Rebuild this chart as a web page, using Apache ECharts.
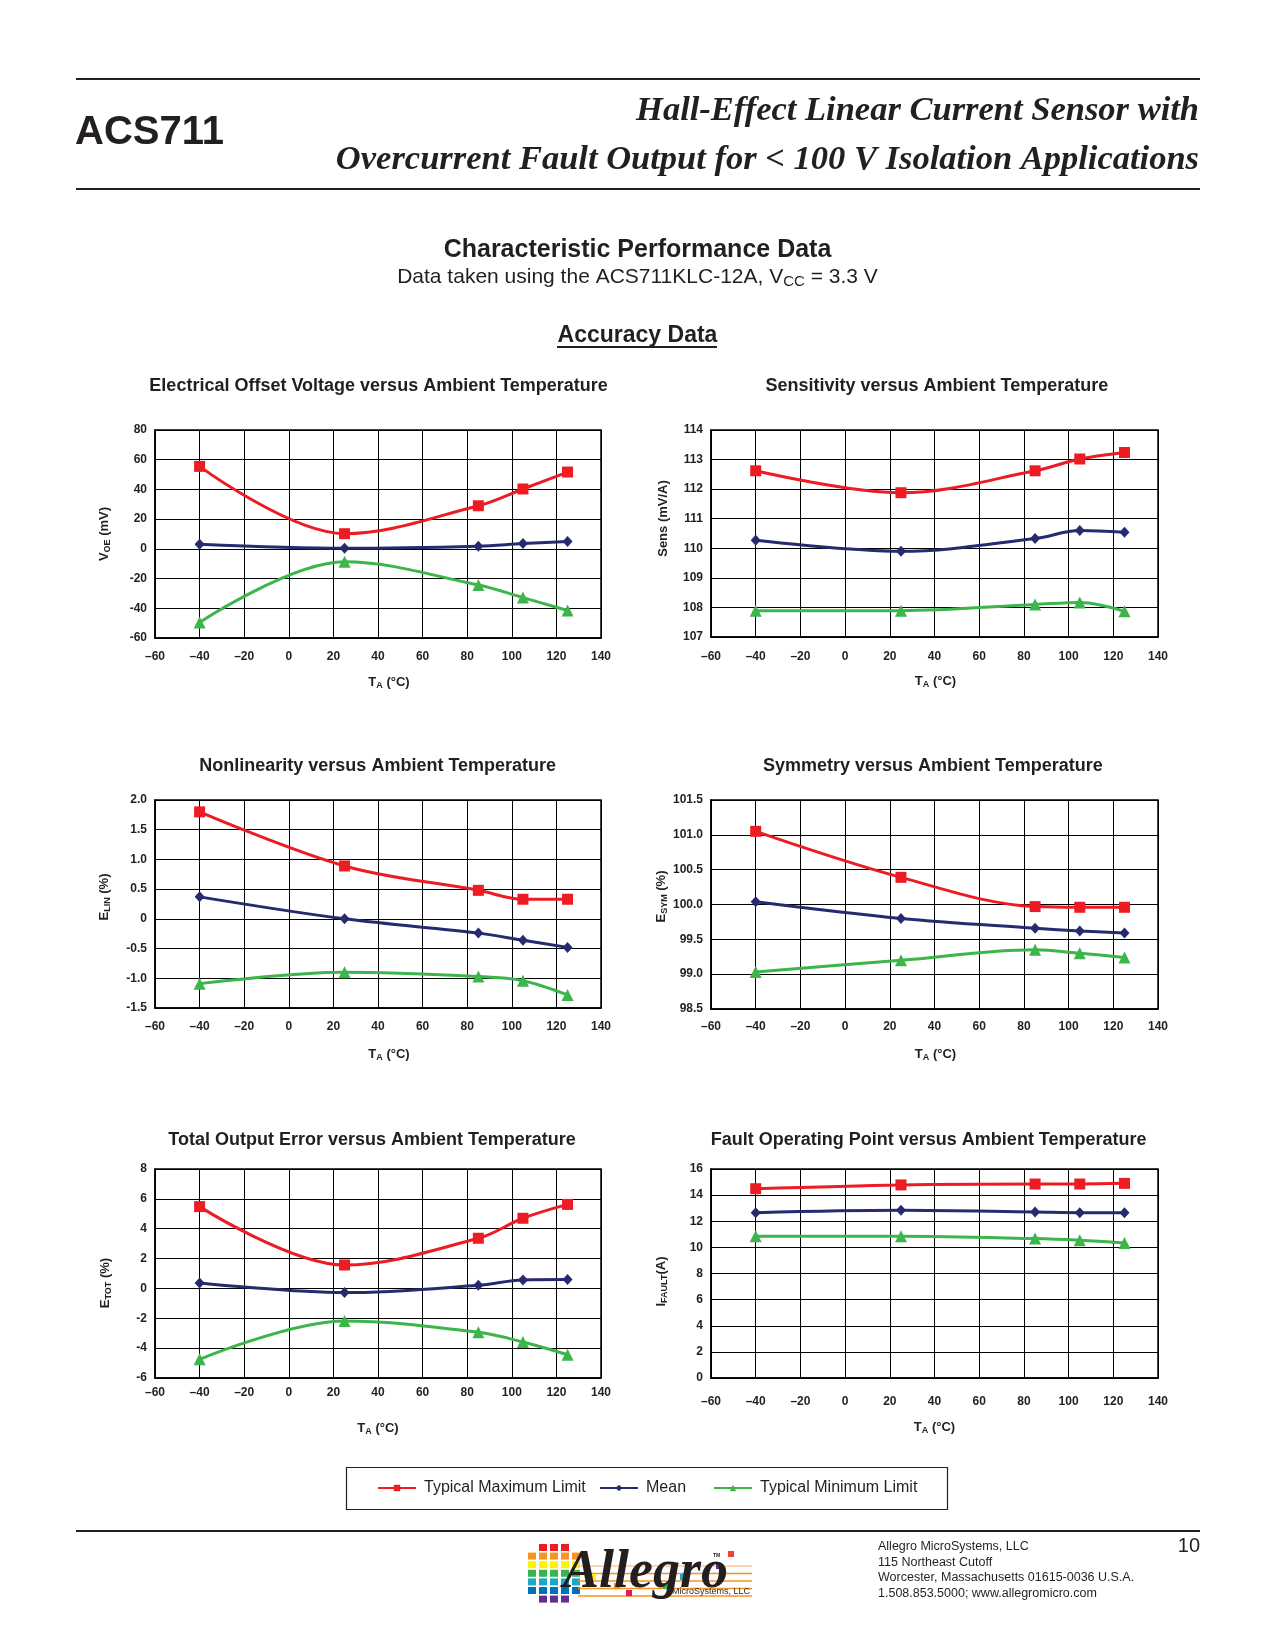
<!DOCTYPE html>
<html>
<head>
<meta charset="utf-8">
<script src="https://cdn.jsdelivr.net/npm/echarts@6/dist/echarts.min.js"></script>
<style>
html,body{margin:0;padding:0;background:#fff;}
#c{width:1275px;height:1650px;}
</style>
</head>
<body>
<div id="c"></div>
<script>
// ---------------- data ----------------
const temps = [-40, 25, 85, 105, 125];
const seriesNames = ['Typical Maximum Limit', 'Mean', 'Typical Minimum Limit'];
const xTickLabels = ['\u201360','\u201340','\u201320','0','20','40','60','80','100','120','140'];

const voeMax  = [55.5, 10.2, 29.0, 40.3, 51.7];
const voeMean = [3.1, 0.4, 1.8, 3.6, 5.0];
const voeMin  = [-49.5, -8.7, -24.3, -32.8, -41.5];
const voeTicks = ['-60','-40','-20','0','20','40','60','80'];

const sensMax  = [112.62, 111.88, 112.62, 113.02, 113.24];
const sensMean = [110.27, 109.90, 110.33, 110.60, 110.54];
const sensMin  = [107.89, 107.89, 108.10, 108.17, 107.87];
const sensTicks = ['107','108','109','110','111','112','113','114'];

const linMax  = [1.80, 0.89, 0.48, 0.33, 0.33];
const linMean = [0.37, 0.00, -0.24, -0.36, -0.48];
const linMin  = [-1.09, -0.90, -0.97, -1.04, -1.28];
const linTicks = ['-1.5','-1.0','-0.5','0','0.5','1.0','1.5','2.0'];

const symMax  = [101.05, 100.39, 99.97, 99.96, 99.96];
const symMean = [100.04, 99.80, 99.66, 99.62, 99.59];
const symMin  = [99.03, 99.20, 99.35, 99.30, 99.24];
const symTicks = ['98.5','99.0','99.5','100.0','100.5','101.0','101.5'];

const totMax  = [5.48, 1.57, 3.36, 4.70, 5.63];
const totMean = [0.36, -0.28, 0.21, 0.57, 0.59];
const totMin  = [-4.75, -2.18, -2.94, -3.59, -4.44];
const totTicks = ['-6','-4','-2','0','2','4','6','8'];

const faultMax  = [14.49, 14.78, 14.85, 14.85, 14.90];
const faultMean = [12.66, 12.84, 12.71, 12.66, 12.66];
const faultMin  = [10.85, 10.85, 10.67, 10.54, 10.34];
const faultTicks = ['0','2','4','6','8','10','12','14','16'];

const chartTitles = [
  'Electrical Offset Voltage versus Ambient Temperature',
  'Sensitivity versus Ambient Temperature',
  'Nonlinearity versus Ambient Temperature',
  'Symmetry versus Ambient Temperature',
  'Total Output Error versus Ambient Temperature',
  'Fault Operating Point versus Ambient Temperature'
];
const yNames = [
  ['V','OE',' (mV)'],
  ['Sens (mV/A)','',''],
  ['E','LIN',' (%)'],
  ['E','SYM',' (%)'],
  ['E','TOT',' (%)'],
  ['I','FAULT','(A)']
];

// ---------------- layout ----------------
const FONT = '"Liberation Sans", Arial, sans-serif';
const SERIF = '"Liberation Serif", "Times New Roman", serif';
const INK = '#231f20';
const COLORS = ['#ed1c24', '#262a6e', '#3cb54a'];
const SYMBOLS = ['rect', 'diamond', 'triangle'];
const SYMSIZE = [11, [10, 11], 12];

const panels = [
  {grid:{left:155,top:430,width:446,height:208}, y:[-60,80,20], ticks:voeTicks,  data:[voeMax,voeMean,voeMin],
   title:[378.6,386], xm:13, xg:37, xpad:[0,0,0,22], yg:43, ypad:[0,0,0,0]},
  {grid:{left:711,top:430,width:447,height:207}, y:[107,114,1], ticks:sensTicks, data:[sensMax,sensMean,sensMin],
   title:[936.8,386], xm:14, xg:37, xpad:[0,0,0,2], yg:41, ypad:[0,0,0,30]},
  {grid:{left:155,top:800,width:446,height:208}, y:[-1.5,2.0,0.5], ticks:linTicks, data:[linMax,linMean,linMin],
   title:[377.7,766.5], xm:13, xg:39, xpad:[0,0,0,22], yg:43, ypad:[0,0,0,14]},
  {grid:{left:711,top:800,width:447,height:209}, y:[98.5,101.5,0.5], ticks:symTicks, data:[symMax,symMean,symMin],
   title:[932.8,766.5], xm:12, xg:38, xpad:[0,0,0,2], yg:41, ypad:[0,0,0,16]},
  {grid:{left:155,top:1169,width:446,height:209}, y:[-6,8,2], ticks:totTicks, data:[totMax,totMean,totMin],
   title:[372,1140], xm:9, xg:43, xpad:[0,0,0,0], yg:42, ypad:[0,19,0,0]},
  {grid:{left:711,top:1169,width:447,height:209}, y:[0,16,2], ticks:faultTicks, data:[faultMax,faultMean,faultMin],
   title:[928.7,1140], xm:18, xg:42, xpad:[0,0,0,0], yg:42, ypad:[0,16,0,0]}
];

const richName = {
  b: {fontFamily: FONT, fontWeight: 'bold', fontSize: 13, color: INK},
  s: {fontFamily: FONT, fontWeight: 'bold', fontSize: 9, color: INK, padding: [6, 0, 0, 0]}
};

const grids = [], xAxes = [], yAxes = [], series = [];
panels.forEach((p, k) => {
  grids.push(Object.assign({show: true, borderColor: '#000', borderWidth: 1.5, containLabel: false}, p.grid));
  xAxes.push({
    type: 'value', gridIndex: k, min: -60, max: 140, interval: 20,
    axisLine: {show: true, onZero: false, lineStyle: {color: '#000', width: 1.5}},
    axisTick: {show: false},
    splitLine: {show: true, lineStyle: {color: '#000', width: 1}},
    axisLabel: {margin: p.xm, fontFamily: FONT, fontWeight: 'bold', fontSize: 12, color: INK,
      formatter: v => xTickLabels[Math.round((v + 60) / 20)]},
    name: '{b|T}{s|A}{b| (\u00b0C)}', nameLocation: 'middle', nameGap: p.xg,
    nameTextStyle: {rich: richName, padding: p.xpad}
  });
  const yn = yNames[k];
  const ynm = yn[1] ? '{b|' + yn[0] + '}{s|' + yn[1] + '}{b|' + yn[2] + '}' : '{b|' + yn[0] + '}';
  yAxes.push({
    type: 'value', gridIndex: k, min: p.y[0], max: p.y[1], interval: p.y[2],
    axisLine: {show: true, onZero: false, lineStyle: {color: '#000', width: 1.5}},
    axisTick: {show: false},
    splitLine: {show: true, lineStyle: {color: '#000', width: 1}},
    axisLabel: {margin: 8, fontFamily: FONT, fontWeight: 'bold', fontSize: 12, color: INK,
      formatter: v => p.ticks[Math.round((v - p.y[0]) / p.y[2])]},
    name: ynm, nameLocation: 'middle', nameGap: p.yg, nameRotate: 90,
    nameTextStyle: {rich: richName, padding: p.ypad}
  });
  p.data.forEach((arr, j) => {
    series.push({
      type: 'line', name: seriesNames[j], xAxisIndex: k, yAxisIndex: k,
      data: temps.map((t, i) => [t, arr[i]]),
      smooth: 0.35, symbol: SYMBOLS[j], symbolSize: SYMSIZE[j],
      lineStyle: {color: COLORS[j], width: 3},
      itemStyle: {color: COLORS[j]},
      emphasis: {disabled: true}, animation: false, z: 3 + (2 - j)
    });
  });
});

// ---------------- static page graphics ----------------
const g = [];
function txt(x, y, text, font, align, vAlign, extra) {
  g.push({type: 'text', silent: true, style: Object.assign({x: x, y: y, text: text, font: font, fill: INK,
    align: align || 'left', verticalAlign: vAlign || 'middle'}, extra || {})});
}
function hline(x1, x2, y, w, color) {
  g.push({type: 'line', silent: true, shape: {x1: x1, y1: y, x2: x2, y2: y}, style: {stroke: color || INK, lineWidth: w}});
}
// header
hline(76, 1200, 79, 2);
hline(76, 1200, 189, 2);
txt(75, 133, 'ACS711', 'bold 40px ' + FONT);
txt(1199, 111, 'Hall-Effect Linear Current Sensor with', 'italic bold 34.5px ' + SERIF, 'right', 'middle');
txt(1199, 160, 'Overcurrent Fault Output for < 100 V Isolation Applications', 'italic bold 34.5px ' + SERIF, 'right', 'middle');
txt(637.5, 250, 'Characteristic Performance Data', 'bold 25px ' + FONT, 'center');
txt(637.5, 277, 'Data taken using the ACS711KLC-12A, V{s|CC} = 3.3 V', '21px ' + FONT, 'center', 'middle',
  {rich: {s: {fontFamily: FONT, fontSize: 15, fill: INK, padding: [9, 0, 0, 0]}}});
txt(637.5, 336, 'Accuracy Data', 'bold 23px ' + FONT, 'center');
hline(557, 717, 347, 1.8);
// chart titles
panels.forEach((p, k) => txt(p.title[0], p.title[1], chartTitles[k], 'bold 18px ' + FONT, 'center'));
// legend box
g.push({type: 'rect', silent: true, shape: {x: 346.5, y: 1467.5, width: 601, height: 42},
  style: {fill: 'none', stroke: INK, lineWidth: 1.2}});
// footer
hline(76, 1200, 1531, 2);
txt(878, 1547, 'Allegro MicroSystems, LLC', '12.5px ' + FONT);
txt(878, 1562.5, '115 Northeast Cutoff', '12.5px ' + FONT);
txt(878, 1578, 'Worcester, Massachusetts 01615-0036 U.S.A.', '12.5px ' + FONT);
txt(878, 1593.5, '1.508.853.5000; www.allegromicro.com', '12.5px ' + FONT);
txt(1200, 1546, '10', '20px ' + FONT, 'right');
// logo: colored squares disc
const rowCols = ['#ed1c24', '#f7941d', '#fff200', '#39b54a', '#1ba9c9', '#0072bc', '#662d91'];
for (let r = 0; r < 7; r++) {
  for (let c = 0; c < 5; c++) {
    const cx = 528 + c * 11 + 4, cy = 1544 + r * 8.6 + 3.5;
    const dx = cx - 552, dy = cy - 1574;
    if (dx * dx + dy * dy > 32 * 32) continue;
    g.push({type: 'rect', silent: true, shape: {x: 528 + c * 11, y: 1544 + r * 8.6, width: 8, height: 7},
      style: {fill: rowCols[r]}});
  }
}
const lineYs = [1566, 1573.5, 1581, 1588.5, 1596];
lineYs.forEach((y, i) => hline(578, 752, y, 1.3, i === 0 ? '#fbc99a' : '#f7941d'));
[[728, 1551, '#ef4136'], [716, 1563, '#662d91'], [680, 1574, '#1ba9c9'], [614, 1583, '#f7941d'],
 [663, 1583, '#39b54a'], [626, 1590, '#ed145b'], [590, 1574, '#fff200']].forEach(s =>
  g.push({type: 'rect', silent: true, shape: {x: s[0], y: s[1], width: 6, height: 6}, style: {fill: s[2]}}));
txt(563, 1573, 'Allegro', 'italic bold 54px ' + SERIF, 'left', 'middle');
txt(713, 1556, 'TM', 'bold 5px ' + FONT);
txt(672, 1592, 'MicroSystems, LLC', '9px ' + FONT);

// ---------------- chart ----------------
const legendBase = {
  orient: 'horizontal', itemWidth: 38, itemHeight: 8, itemGap: 10, padding: 0, top: 1480,
  selectedMode: false,
  textStyle: {fontFamily: FONT, fontSize: 16, color: INK, padding: [0, 0, 0, 3]}
};
const option = {
  animation: false,
  backgroundColor: '#fff',
  grid: grids, xAxis: xAxes, yAxis: yAxes, series: series,
  legend: [
    Object.assign({}, legendBase, {left: 377, data: [seriesNames[0]]}),
    Object.assign({}, legendBase, {left: 599, data: [seriesNames[1]]}),
    Object.assign({}, legendBase, {left: 713, data: [seriesNames[2]]})
  ],
  graphic: {elements: g}
};
const chart = echarts.init(document.getElementById('c'), null, {renderer: 'canvas'});
chart.setOption(option);
</script>
</body>
</html>
